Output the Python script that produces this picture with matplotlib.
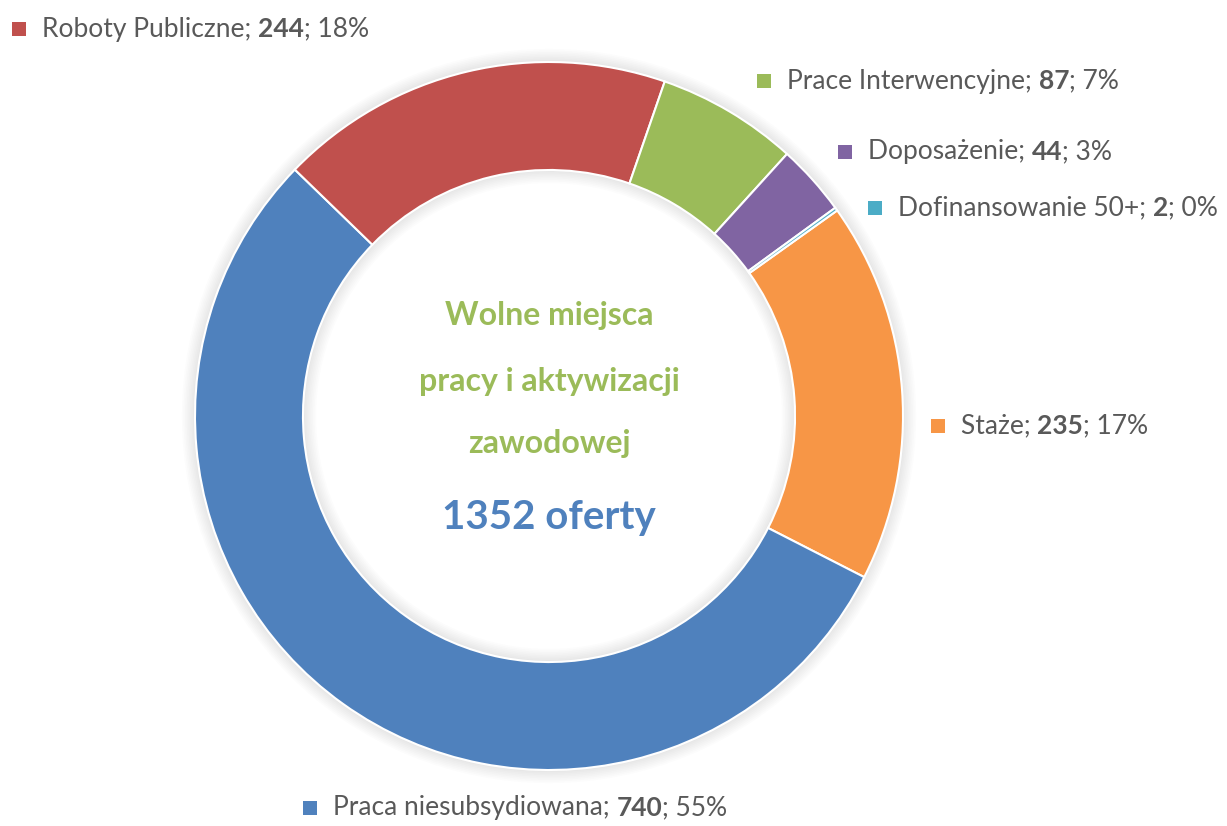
import numpy as np
import matplotlib
matplotlib.use("Agg")
import matplotlib.pyplot as plt
from matplotlib.patches import Wedge, Rectangle

# data
categories = ["Staże", "Praca niesubsydiowana", "Roboty Publiczne",
              "Prace Interwencyjne", "Doposażenie", "Dofinansowanie 50+"]
values = [235, 740, 244, 87, 44, 2]
percents = [17, 55, 18, 7, 3, 0]
colors = ["#F79646", "#4F81BD", "#C0504D", "#9BBB59", "#8064A2", "#4BACC6"]
# label anchor (marker left x, text centre y) in image pixels
label_pos = [(931, 426), (303, 808), (12, 29), (757, 81), (838, 152), (868, 208)]

W, H = 1227, 826
FONT = "Lato"
TXT = "#595959"

fig = plt.figure(figsize=(W / 100, H / 100), dpi=100)
ax = fig.add_axes([0, 0, 1, 1])

cx, cy, R = 549, H - 416, 354
ring = R * 0.305

# faint shadow round the ring (outside and inside the hole)
for i in range(8):
    ax.add_patch(Wedge((cx, cy), R + 2 + i * 1.6, 0, 360,
                       width=ring + 4 + i * 3.2, color="#000000",
                       alpha=0.010, lw=0, zorder=0))

ax.pie(values, colors=colors, startangle=35.5, counterclock=False,
       center=(cx, cy), radius=R,
       wedgeprops=dict(width=ring, edgecolor="white", linewidth=1.5))

ax.set_xlim(0, W)
ax.set_ylim(0, H)
ax.set_aspect("equal")
ax.axis("off")

fig.canvas.draw()
rend = fig.canvas.get_renderer()
total = sum(values)


def runs(x, y, parts, size=19):
    for txt, bold in parts:
        t = ax.text(x, y, txt, fontsize=size, family=FONT, color=TXT,
                    fontweight="bold" if bold else "normal",
                    va="center", ha="left")
        bb = t.get_window_extent(renderer=rend)
        x += bb.width


for cat, v, p, c, (mx, my) in zip(categories, values, percents, colors, label_pos):
    y = H - my
    ax.add_patch(Rectangle((mx, y - 7), 14, 14, color=c, lw=0))
    runs(mx + 30, y, [(cat + "; ", False), (str(v), True), ("; %d%%" % p, False)])

green = "#9BBB59"
for line, yy in [("Wolne miejsca", 315), ("pracy i aktywizacji", 381),
                 ("zawodowej", 444)]:
    ax.text(cx, H - yy, line, fontsize=23, family=FONT, fontweight="bold",
            color=green, ha="center", va="center")
ax.text(cx, H - 517, "%d oferty" % total, fontsize=29, family=FONT,
        fontweight="bold", color="#4F81BD", ha="center", va="center")

fig.savefig("out.png", dpi=100, facecolor="white")
